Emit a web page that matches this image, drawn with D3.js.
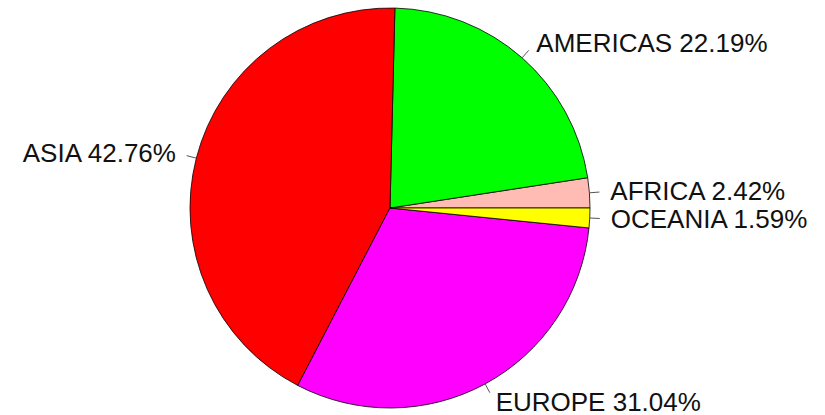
<!DOCTYPE html>
<html>
<head>
<meta charset="utf-8">
<script src="https://cdn.jsdelivr.net/npm/d3@7"></script>
<style>
  html, body { margin: 0; padding: 0; background: #fff; }
  svg { display: block; }
</style>
</head>
<body>
<svg id="chart" width="825" height="415"></svg>
<script>
const categories = ["AFRICA", "AMERICAS", "ASIA", "EUROPE", "OCEANIA"];
const values = [2.42, 22.19, 42.76, 31.04, 1.59];
const colors = ["#ffbcb4", "#00ff00", "#ff0000", "#ff00ff", "#ffff00"];

const svg = d3.select("#chart");
const cx = 390, cy = 208, r = 200;
const g = svg.append("g").attr("transform", `translate(${cx},${cy})`);

const data = categories.map((c, i) => ({ name: c, value: values[i], color: colors[i] }));

// R-style pie: start at 3 o'clock, counter-clockwise
const pie = d3.pie().sort(null).value(d => d.value)
  .startAngle(Math.PI / 2).endAngle(Math.PI / 2 - 2 * Math.PI);
const arcs = pie(data);
const arc = d3.arc().innerRadius(0).outerRadius(r);

g.selectAll("path.slice").data(arcs).enter().append("path")
  .attr("class", "slice")
  .attr("d", arc)
  .attr("fill", d => d.data.color)
  .attr("stroke", "#000")
  .attr("stroke-width", 0.8);

const pt = (a, rad) => [Math.sin(a) * rad, -Math.cos(a) * rad];

arcs.forEach(d => {
  const a = (d.startAngle + d.endAngle) / 2;
  const p1 = pt(a, r), p2 = pt(a, r * 1.05), p3 = pt(a, r * 1.1);
  g.append("line")
    .attr("x1", p1[0]).attr("y1", p1[1])
    .attr("x2", p2[0]).attr("y2", p2[1])
    .attr("stroke", "#555").attr("stroke-width", 1);
  g.append("text")
    .attr("x", p3[0] + (p3[0] >= 0 ? 1 : -1)).attr("y", p3[1])
    .attr("text-anchor", p3[0] >= 0 ? "start" : "end")
    .attr("dominant-baseline", "central")
    .attr("font-family", "Liberation Sans, Arial, sans-serif")
    .attr("font-size", 26)
    .attr("fill", "#111")
    .text(`${d.data.name} ${d.data.value.toFixed(2)}%`);
});
</script>
</body>
</html>
